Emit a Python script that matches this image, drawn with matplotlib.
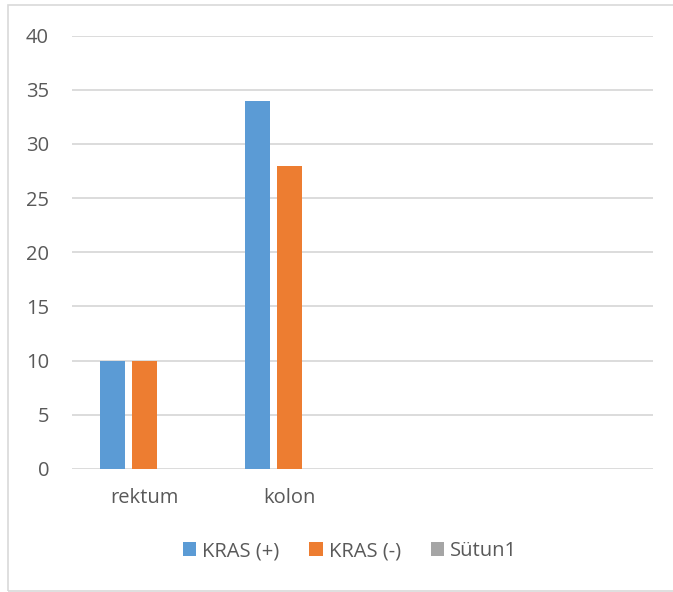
import matplotlib
matplotlib.use("Agg")
import matplotlib.pyplot as plt
import numpy as np
from matplotlib.patches import Rectangle

categories = ["rektum", "kolon", "", ""]
kras_pos = [10, 34, None, None]
kras_neg = [10, 28, None, None]
sutun1 = [None, None, None, None]
series_names = ["KRAS (+)", "KRAS (-)", "Sütun1"]
series_colors = ["#5b9bd5", "#ed7d31", "#a5a5a5"]
y_ticks = [0, 5, 10, 15, 20, 25, 30, 35, 40]

TEXT = "#595959"
GRID = "#d9d9d9"
FS = 14.5

W, H = 673, 592
fig = plt.figure(figsize=(W / 100, H / 100), dpi=100)
plt.rcParams["font.family"] = ["Open Sans", "DejaVu Sans"]

# chart border
fig.patches.append(Rectangle((8 / W, 1 - 591 / H), 700 / W, 586 / H,
                             transform=fig.transFigure, fill=False,
                             edgecolor=GRID, lw=1.2))

ax = fig.add_axes([72 / W, 1 - 469 / H, 581 / W, 433.5 / H])

x = np.arange(len(categories))
width = 0.172
step = 0.22
handles = []
for i, (vals, name, col) in enumerate(zip([kras_pos, kras_neg, sutun1],
                                          series_names, series_colors)):
    v = [np.nan if a is None else a for a in vals]
    h = ax.bar(x + (i - 1) * step, v, width, color=col, label=name, zorder=3)
    handles.append(h)

ax.set_xlim(-0.5, len(categories) - 0.5)
ax.set_ylim(0, 40)
ax.set_yticks(y_ticks)
ax.set_xticks(x)
ax.set_xticklabels(categories)
ax.tick_params(axis="both", length=0, labelsize=FS, colors=TEXT)
ax.tick_params(axis="y", pad=16.5)
ax.tick_params(axis="x", pad=14)
ax.grid(axis="y", color=GRID, lw=1.3, zorder=0)
for s in ax.spines.values():
    s.set_visible(False)

fig.legend(handles=handles, labels=series_names, loc="center",
           bbox_to_anchor=(350 / W, 1 - 551 / H), ncol=3, frameon=False,
           fontsize=FS, labelcolor=TEXT, handlelength=0.65, handleheight=0.65,
           handletextpad=0.3, columnspacing=1.5)

fig.savefig("out.png", dpi=100)
